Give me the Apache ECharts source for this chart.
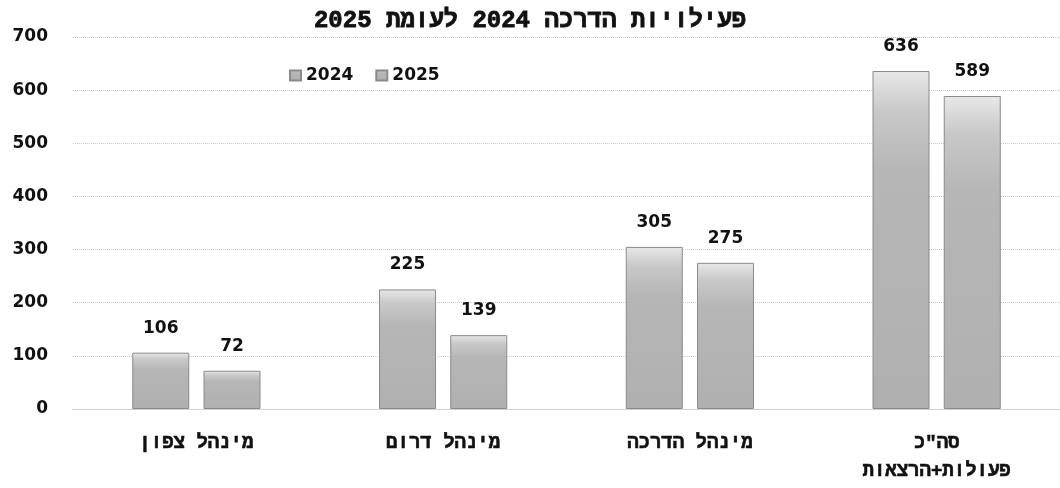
<!DOCTYPE html>
<html>
<head>
<meta charset="utf-8">
<script src="https://cdn.jsdelivr.net/npm/echarts@6/dist/echarts.min.js"></script>
<style>
  html, body { margin: 0; padding: 0; background: #fff; }
  #main { width: 1060px; height: 488px; }
</style>
</head>
<body>
<div id="main"></div>
<script>
// data
const categories = ['מינהל צפון', 'מינהל דרום', 'מינהל הדרכה', 'סה"כ\nפעולות+הרצאות']
const values2024 = [106, 225, 305, 636]
const values2025 = [72, 139, 275, 589]
const yTicks = [0, 100, 200, 300, 400, 500, 600, 700]

const barFill = {
  type: 'linear', x: 0, y: 0, x2: 0, y2: 1,
  colorStops: [
    { offset: 0, color: '#e8e8e8' },
    { offset: 0.12, color: '#c8c8c8' },
    { offset: 0.3, color: '#b6b6b6' },
    { offset: 1, color: '#b0b0b0' }
  ]
}

function barSeries(name, data) {
  return {
    name: name,
    type: 'bar',
    data: data,
    barWidth: 57,
    barGap: '25%',
    itemStyle: { color: barFill, borderColor: '#8a8a8a', borderWidth: 1 },
    label: {
      show: true,
      position: 'top',
      distance: 16,
      color: '#111',
      fontFamily: 'DejaVu Sans',
      fontWeight: 'bold',
      fontSize: 17
    }
  }
}

const chart = echarts.init(document.getElementById('main'))
chart.setOption({
  animation: false,
  title: {
    text: 'פעילויות הדרכה 2024 לעומת 2025',
    left: 'center',
    top: 4,
    textStyle: {
      fontFamily: 'Liberation Mono', fontWeight: 'bold', fontSize: 24, color: '#111',
      textBorderColor: '#111', textBorderWidth: 0.8
    }
  },
  legend: {
    data: ['2024', '2025'],
    left: 284,
    top: 62,
    itemWidth: 11,
    itemHeight: 10,
    itemGap: 22,
    icon: 'rect',
    textStyle: { fontFamily: 'DejaVu Sans', fontWeight: 'bold', fontSize: 17, color: '#111' }
  },
  grid: { left: 73, right: 0, top: 37, bottom: 79 },
  xAxis: {
    type: 'category',
    data: categories,
    axisLine: { lineStyle: { color: '#c8c8c8', type: 'dotted' } },
    axisTick: { show: false },
    axisLabel: {
      margin: 20,
      lineHeight: 28,
      color: '#111',
      fontFamily: 'Liberation Mono',
      fontWeight: 'bold',
      fontSize: 19,
      textBorderColor: '#111',
      textBorderWidth: 0.6
    }
  },
  yAxis: {
    type: 'value',
    min: yTicks[0],
    max: yTicks[yTicks.length - 1],
    interval: 100,
    axisLine: { show: false },
    axisTick: { show: false },
    splitLine: { lineStyle: { color: '#c8c8c8', type: 'dotted' } },
    axisLabel: {
      margin: 25,
      color: '#111',
      fontFamily: 'DejaVu Sans',
      fontWeight: 'bold',
      fontSize: 17
    }
  },
  series: [barSeries('2024', values2024), barSeries('2025', values2025)]
})
</script>
</body>
</html>
